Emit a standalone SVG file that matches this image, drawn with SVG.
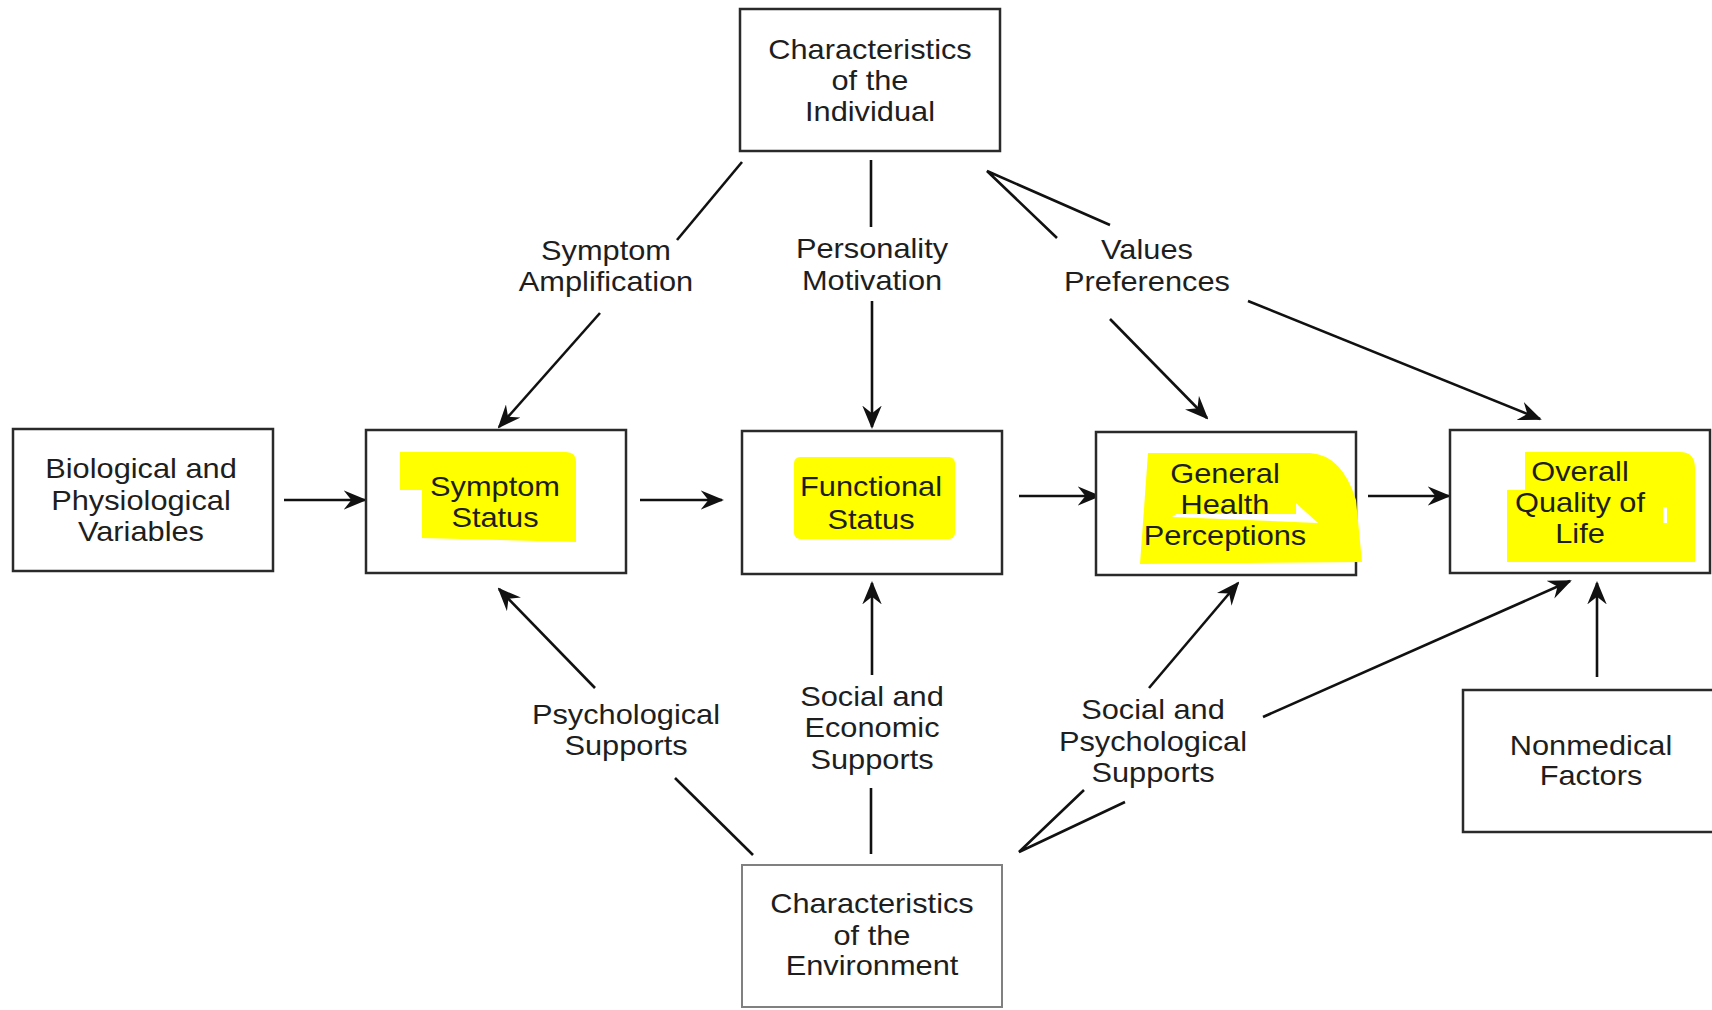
<svg xmlns="http://www.w3.org/2000/svg" width="1712" height="1010" viewBox="0 0 1712 1010">
<style>
.box{fill:#fff;stroke:#2a2a2a;stroke-width:2.5}
.box2{fill:#fff;stroke:#808080;stroke-width:2}
.hl{fill:#ffff00;stroke:none}
.wh{fill:#fff;stroke:none}
text{font-family:"Liberation Sans",Arial,sans-serif;font-size:27px;fill:#1e1e1e;text-anchor:middle}
.c{stroke:#111;stroke-width:2.6;fill:none}
.a{stroke:#111;stroke-width:2.6;fill:none;marker-end:url(#ah)}
</style>
<defs>
<marker id="ah" viewBox="0 0 12 10" refX="11" refY="5" markerWidth="9" markerHeight="7.5" orient="auto" markerUnits="strokeWidth">
<path d="M0,0 L12,5 L0,10 L4,5 Z" fill="#111"/>
</marker>
</defs>
<rect width="1712" height="1010" fill="#fff"/>

<g id="connectors">
<line class="a" x1="284" y1="500" x2="365" y2="500"/>
<line class="a" x1="640" y1="500" x2="722" y2="500"/>
<line class="a" x1="1019" y1="496" x2="1099" y2="496"/>
<line class="a" x1="1368" y1="496" x2="1449" y2="496"/>
<line class="c" x1="742" y1="162" x2="677" y2="240"/>
<line class="a" x1="600" y1="313" x2="499" y2="427"/>
<line class="c" x1="871" y1="160" x2="871" y2="227"/>
<line class="a" x1="872" y1="301" x2="872" y2="427"/>
<polyline class="c" points="1057,238 987,171 1110,225"/>
<line class="a" x1="1110" y1="319" x2="1207" y2="418"/>
<line class="a" x1="1248" y1="301" x2="1540" y2="419"/>
<line class="a" x1="595" y1="688" x2="499" y2="589"/>
<line class="c" x1="675" y1="778" x2="753" y2="855"/>
<line class="a" x1="872" y1="675" x2="872" y2="583"/>
<line class="c" x1="871" y1="788" x2="871" y2="854"/>
<polyline class="c" points="1084,790 1019,852 1125,802"/>
<line class="a" x1="1149" y1="688" x2="1238" y2="583"/>
<line class="a" x1="1263" y1="717" x2="1570" y2="581"/>
<line class="a" x1="1597" y1="677" x2="1597" y2="583"/>
</g>

<g id="labels">
<text transform="matrix(1.14 0 0 1 606 0)"><tspan x="0" y="260">Symptom</tspan><tspan x="0" y="291">Amplification</tspan></text>
<text transform="matrix(1.14 0 0 1 872 0)"><tspan x="0" y="258">Personality</tspan><tspan x="0" y="290">Motivation</tspan></text>
<text transform="matrix(1.14 0 0 1 1147 0)"><tspan x="0" y="259">Values</tspan><tspan x="0" y="291">Preferences</tspan></text>
<text transform="matrix(1.14 0 0 1 626 0)"><tspan x="0" y="724">Psychological</tspan><tspan x="0" y="755">Supports</tspan></text>
<text transform="matrix(1.14 0 0 1 872 0)"><tspan x="0" y="706">Social and</tspan><tspan x="0" y="737">Economic</tspan><tspan x="0" y="769">Supports</tspan></text>
<text transform="matrix(1.14 0 0 1 1153 0)"><tspan x="0" y="719">Social and</tspan><tspan x="0" y="751">Psychological</tspan><tspan x="0" y="782">Supports</tspan></text>
</g>

<g id="individual">
<rect class="box" x="740" y="9" width="260" height="142"/>
<text transform="matrix(1.14 0 0 1 870 0)"><tspan x="0" y="59">Characteristics</tspan><tspan x="0" y="90">of the</tspan><tspan x="0" y="121">Individual</tspan></text>
</g>

<g id="biological">
<rect class="box" x="13" y="429" width="260" height="142"/>
<text transform="matrix(1.14 0 0 1 141 0)"><tspan x="0" y="478">Biological and</tspan><tspan x="0" y="510">Physiological</tspan><tspan x="0" y="541">Variables</tspan></text>
</g>

<g id="symptom">
<rect class="box" x="366" y="430" width="260" height="143"/>
<path class="hl" d="M400,452 L566,452 Q576,452 576,462 L576,542 L422,538 L422,490 L400,490 Z"/>
<text transform="matrix(1.14 0 0 1 495 0)"><tspan x="0" y="496">Symptom</tspan><tspan x="0" y="527">Status</tspan></text>
</g>

<g id="functional">
<rect class="box" x="742" y="431" width="260" height="143"/>
<rect class="hl" x="794" y="457" width="161" height="82" rx="6"/>
<text transform="matrix(1.14 0 0 1 871 0)"><tspan x="0" y="496">Functional</tspan><tspan x="0" y="529">Status</tspan></text>
</g>

<g id="perceptions">
<rect class="box" x="1096" y="432" width="260" height="143"/>
<path class="hl" d="M1148,453 L1310,453 Q1342,455 1356,500 L1362,562 L1140,564 Z"/>
<path class="wh" d="M1172,517 L1176,514 L1296,514 L1296,503 L1318,523 Z"/>
<text transform="matrix(1.14 0 0 1 1225 0)"><tspan x="0" y="483">General</tspan><tspan x="0" y="514">Health</tspan><tspan x="0" y="545">Perceptions</tspan></text>
</g>

<g id="quality">
<rect class="box" x="1450" y="430" width="260" height="143"/>
<path class="hl" d="M1525,452 L1680,452 Q1695,452 1695,468 L1695,562 L1507,562 L1507,490 L1525,490 Z"/>
<rect class="wh" x="1663" y="507" width="4" height="16"/>
<text transform="matrix(1.14 0 0 1 1580 0)"><tspan x="0" y="481">Overall</tspan><tspan x="0" y="512">Quality of</tspan><tspan x="0" y="543">Life</tspan></text>
</g>

<g id="nonmedical">
<rect class="box" x="1463" y="690" width="262" height="142"/>
<text transform="matrix(1.14 0 0 1 1591 0)"><tspan x="0" y="755">Nonmedical</tspan><tspan x="0" y="785">Factors</tspan></text>
</g>

<g id="environment">
<rect class="box2" x="742" y="865" width="260" height="142"/>
<text transform="matrix(1.14 0 0 1 872 0)"><tspan x="0" y="913">Characteristics</tspan><tspan x="0" y="945">of the</tspan><tspan x="0" y="975">Environment</tspan></text>
</g>
</svg>
